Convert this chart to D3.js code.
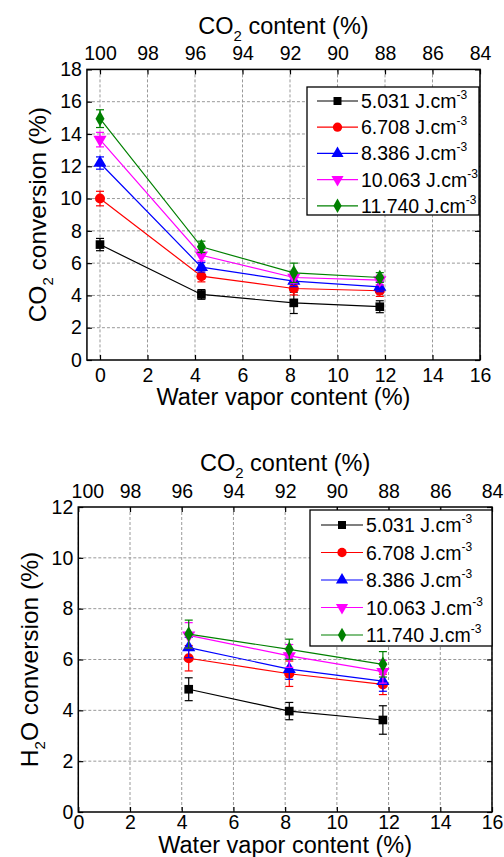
<!DOCTYPE html>
<html>
<head>
<meta charset="utf-8">
<script src="https://cdn.jsdelivr.net/npm/d3@7"></script>
<style>
  body { margin: 0; background: #fff; }
  svg { display: block; font-family: "Liberation Sans", Arial, sans-serif; }
</style>
</head>
<body>
<svg id="chart" width="504" height="857"></svg>
<script>
// data
const waterX = [0, 4.27, 8.16, 11.78]
const energies = ['5.031', '6.708', '8.386', '10.063', '11.740']
const colors = ['#000000', '#ff0000', '#0000ff', '#ff00ff', '#008000']

const co2Conv = [
  [7.15, 4.06, 3.54, 3.30],
  [10.0, 5.19, 4.43, 4.29],
  [12.2, 5.75, 4.89, 4.53],
  [13.65, 6.49, 5.11, 4.95],
  [14.95, 7.01, 5.40, 5.11]
]
const co2Err = [
  [0.38, 0.30, 0.66, 0.37],
  [0.45, 0.35, 0.40, 0.35],
  [0.38, 0.30, 0.35, 0.30],
  [0.45, 0.35, 0.35, 0.30],
  [0.55, 0.35, 0.60, 0.30]
]

// H2O chart has no point at 0 % water vapor
const h2oX = [4.27, 8.16, 11.78]
const h2oConv = [
  [4.83, 3.97, 3.62],
  [6.05, 5.44, 5.02],
  [6.47, 5.62, 5.15],
  [6.95, 6.14, 5.52],
  [7.00, 6.40, 5.81]
]
const h2oErr = [
  [0.45, 0.34, 0.56],
  [0.50, 0.50, 0.40],
  [0.40, 0.40, 0.40],
  [0.50, 0.45, 0.45],
  [0.55, 0.40, 0.50]
]

const xTicks = d3.range(0, 17, 2)
const co2Ticks = d3.range(100, 83, -2)

const triDown = {
  draw(ctx, size) {
    const s = Math.sqrt(size / (Math.sqrt(3) / 4))
    const h = s * Math.sqrt(3) / 2
    ctx.moveTo(-s / 2, -h / 3)
    ctx.lineTo(s / 2, -h / 3)
    ctx.lineTo(0, 2 * h / 3)
    ctx.closePath()
  }
}
const symbols = [d3.symbolSquare, d3.symbolCircle, d3.symbolTriangle, triDown, d3.symbolDiamond]
const symSize = [75, 80, 75, 75, 70]

const svg = d3.select('#chart')

function drawChart(cfg) {
  const x = d3.scaleLinear().domain([0, 16]).range([cfg.x0, cfg.x16])
  const xTop = d3.scaleLinear().domain([100, 84]).range([cfg.x0, cfg.x16])
  const y = d3.scaleLinear().domain([0, cfg.yMax]).range([cfg.yBottom, cfg.yTop])
  const left = x(cfg.xMin), right = x(16)
  const g = svg.append('g')

  // grid
  g.append('g').selectAll('line').data(xTicks).join('line')
    .attr('x1', d => x(d)).attr('x2', d => x(d))
    .attr('y1', cfg.yTop).attr('y2', cfg.yBottom)
    .attr('stroke', '#999').attr('stroke-dasharray', '3,2').attr('stroke-width', 1)
  g.append('g').selectAll('line').data(d3.range(2, cfg.yMax, 2)).join('line')
    .attr('x1', left).attr('x2', right)
    .attr('y1', d => y(d)).attr('y2', d => y(d))
    .attr('stroke', '#999').attr('stroke-dasharray', '3,2').attr('stroke-width', 1)

  // axes
  const yTicks = d3.range(0, cfg.yMax + 1, 2)
  const axL = g.append('g').attr('transform', `translate(${left},0)`)
    .call(d3.axisLeft(y).tickValues(yTicks).tickSize(-5).tickPadding(5))
  const axR = g.append('g').attr('transform', `translate(${right},0)`)
    .call(d3.axisRight(y).tickValues(yTicks).tickSize(-5).tickFormat(''))
  const axB = g.append('g').attr('transform', `translate(0,${cfg.yBottom})`)
    .call(d3.axisBottom(x).tickValues(xTicks).tickSize(-5).tickPadding(cfg.bottomPad))
  const axT = g.append('g').attr('transform', `translate(0,${cfg.yTop})`)
    .call(d3.axisTop(xTop).tickValues(co2Ticks).tickSize(-5).tickPadding(cfg.topPad))
  ;[axL, axR, axB, axT].forEach(a => {
    a.select('.domain').remove()
    a.selectAll('line').attr('stroke', '#000').attr('stroke-width', 1.2)
    a.selectAll('text').attr('font-size', 19.5).attr('fill', '#000')
      .attr('font-family', '"Liberation Sans", Arial, sans-serif')
  })
  // first top label sits a bit right of the corner (clears the y label)
  axT.selectAll('.tick text').filter(d => d === 100).attr('dx', cfg.firstTopDx)

  // series
  const line = d3.line().x(d => x(d[0])).y(d => y(d[1]))
  cfg.values.forEach((vals, i) => {
    const pts = vals.map((v, j) => [cfg.xs[j], v, cfg.errs[i][j]])
    const s = g.append('g')
    s.append('path').attr('d', line(pts)).attr('fill', 'none')
      .attr('stroke', colors[i]).attr('stroke-width', 1.2)
    const eb = s.selectAll('g.eb').data(pts).join('g')
    eb.append('line').attr('x1', d => x(d[0])).attr('x2', d => x(d[0]))
      .attr('y1', d => y(d[1] - d[2])).attr('y2', d => y(d[1] + d[2]))
    eb.append('line').attr('x1', d => x(d[0]) - 4).attr('x2', d => x(d[0]) + 4)
      .attr('y1', d => y(d[1] - d[2])).attr('y2', d => y(d[1] - d[2]))
    eb.append('line').attr('x1', d => x(d[0]) - 4).attr('x2', d => x(d[0]) + 4)
      .attr('y1', d => y(d[1] + d[2])).attr('y2', d => y(d[1] + d[2]))
    eb.selectAll('line').attr('stroke', colors[i]).attr('stroke-width', 1.2)
    s.selectAll('path.mk').data(pts).join('path').attr('class', 'mk')
      .attr('d', d3.symbol(symbols[i], symSize[i]))
      .attr('transform', d => `translate(${x(d[0])},${y(d[1])})`)
      .attr('fill', colors[i])
  })

  // frame
  g.append('rect').attr('x', left).attr('y', cfg.yTop)
    .attr('width', right - left).attr('height', cfg.yBottom - cfg.yTop)
    .attr('fill', 'none').attr('stroke', '#000').attr('stroke-width', 1.5)

  // titles
  const top = g.append('text').attr('x', (left + right) / 2).attr('y', cfg.topTitleY)
    .attr('text-anchor', 'middle').attr('font-size', 23.5)
  top.append('tspan').text('CO')
  top.append('tspan').attr('font-size', 15).attr('dy', 7).text('2')
  top.append('tspan').attr('dy', -7).text(' content (%)')

  g.append('text').attr('x', (left + right) / 2).attr('y', cfg.bottomTitleY)
    .attr('text-anchor', 'middle').attr('font-size', 23.5).text('Water vapor content (%)')

  const yt = g.append('text')
    .attr('transform', `translate(${cfg.yTitleX},${(cfg.yTop + cfg.yBottom) / 2}) rotate(-90)`)
    .attr('text-anchor', 'middle').attr('font-size', 24.5)
  yt.append('tspan').text(cfg.yLabel[0])
  yt.append('tspan').attr('font-size', 15).attr('dy', 7).text('2')
  yt.append('tspan').attr('dy', -7).text(cfg.yLabel[1])

  // legend
  const L = cfg.legend
  g.append('rect').attr('x', L.x).attr('y', L.y).attr('width', L.w).attr('height', L.h)
    .attr('fill', '#fff').attr('stroke', '#000').attr('stroke-width', 1.3)
  energies.forEach((e, i) => {
    const cy = L.first + i * L.step
    const le = g.append('g')
    le.append('line').attr('x1', L.lx1).attr('x2', L.lx2).attr('y1', cy).attr('y2', cy)
      .attr('stroke', colors[i]).attr('stroke-width', 1.2)
    le.append('path').attr('d', d3.symbol(symbols[i], symSize[i] * 0.85))
      .attr('transform', `translate(${(L.lx1 + L.lx2) / 2},${cy})`).attr('fill', colors[i])
    const t = le.append('text').attr('x', L.lx2 + 3).attr('y', cy + 7).attr('font-size', L.fs)
    t.append('tspan').text(e + ' J.cm')
    t.append('tspan').attr('font-size', 12).attr('dy', -9).text('-3')
  })
}

drawChart({
  x0: 100, x16: 480, xMin: -0.55, yBottom: 360, yTop: 69.4, yMax: 18,
  xs: waterX, values: co2Conv, errs: co2Err, firstTopDx: 0,
  bottomPad: 8, topPad: 9, topTitleY: 34, bottomTitleY: 405, yTitleX: 46,
  yLabel: ['CO', ' conversion (%)'],
  legend: { x: 307, y: 87, w: 172, h: 128, first: 101, step: 26.2, lx1: 317, lx2: 358, fs: 19.5 }
})

drawChart({
  x0: 78.3, x16: 492, xMin: 0, yBottom: 812, yTop: 507, yMax: 12,
  xs: h2oX, values: h2oConv, errs: h2oErr, firstTopDx: 9,
  bottomPad: 3, topPad: 9, topTitleY: 471, bottomTitleY: 853, yTitleX: 38,
  yLabel: ['H', 'O conversion (%)'],
  legend: { x: 310, y: 510, w: 182, h: 136, first: 525, step: 27.5, lx1: 321, lx2: 363, fs: 19.5 }
})
</script>
</body>
</html>
